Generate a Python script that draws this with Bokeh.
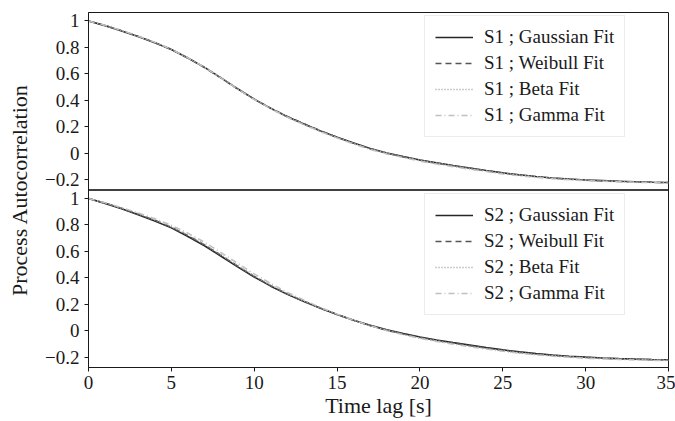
from bokeh.plotting import figure
from bokeh.models import Range1d, FixedTicker, Span, Legend, LegendItem
from bokeh.embed import file_html
from bokeh.resources import INLINE

# ---- data ----
time_lag = list(range(36))

s1_gaussian = [1.000, 0.965, 0.925, 0.882, 0.836, 0.785, 0.720, 0.650, 0.570, 0.488,
               0.410, 0.340, 0.277, 0.222, 0.170, 0.122, 0.078, 0.038, 0.004, -0.024,
               -0.050, -0.071, -0.091, -0.110, -0.129, -0.147, -0.161, -0.174, -0.185, -0.193,
               -0.200, -0.205, -0.210, -0.214, -0.217, -0.219]
s1_weibull = [1.000, 0.966, 0.927, 0.884, 0.837, 0.785, 0.719, 0.648, 0.568, 0.487,
              0.410, 0.341, 0.279, 0.224, 0.171, 0.122, 0.077, 0.036, 0.002, -0.026,
              -0.052, -0.073, -0.093, -0.112, -0.131, -0.149, -0.163, -0.176, -0.187, -0.195,
              -0.202, -0.207, -0.212, -0.215, -0.218, -0.220]
s1_beta = [1.000, 0.964, 0.924, 0.881, 0.836, 0.786, 0.722, 0.652, 0.572, 0.489,
           0.410, 0.339, 0.276, 0.221, 0.169, 0.121, 0.077, 0.037, 0.003, -0.025,
           -0.051, -0.072, -0.092, -0.111, -0.130, -0.148, -0.162, -0.175, -0.186, -0.194,
           -0.201, -0.206, -0.211, -0.215, -0.218, -0.220]
s1_gamma = [1.000, 0.967, 0.929, 0.886, 0.839, 0.787, 0.722, 0.650, 0.569, 0.486,
            0.407, 0.337, 0.273, 0.217, 0.165, 0.116, 0.071, 0.030, -0.004, -0.032,
            -0.058, -0.080, -0.100, -0.119, -0.137, -0.155, -0.169, -0.181, -0.191, -0.199,
            -0.205, -0.210, -0.214, -0.218, -0.221, -0.223]

s2_gaussian = [1.000, 0.963, 0.922, 0.877, 0.830, 0.778, 0.713, 0.643, 0.564, 0.484,
               0.407, 0.338, 0.276, 0.222, 0.171, 0.124, 0.081, 0.042, 0.008, -0.020,
               -0.046, -0.068, -0.088, -0.107, -0.126, -0.143, -0.158, -0.171, -0.182, -0.191,
               -0.198, -0.204, -0.209, -0.213, -0.216, -0.218]
s2_weibull = [1.000, 0.965, 0.926, 0.883, 0.836, 0.784, 0.720, 0.650, 0.571, 0.490,
              0.412, 0.342, 0.279, 0.224, 0.172, 0.124, 0.080, 0.040, 0.005, -0.024,
              -0.050, -0.072, -0.092, -0.111, -0.130, -0.147, -0.162, -0.175, -0.186, -0.194,
              -0.201, -0.206, -0.211, -0.214, -0.217, -0.219]
s2_beta = [1.000, 0.966, 0.927, 0.884, 0.838, 0.787, 0.723, 0.653, 0.574, 0.493,
           0.415, 0.345, 0.281, 0.225, 0.173, 0.125, 0.080, 0.040, 0.005, -0.027,
           -0.053, -0.075, -0.095, -0.114, -0.132, -0.149, -0.164, -0.177, -0.187, -0.195,
           -0.202, -0.207, -0.211, -0.215, -0.218, -0.220]
s2_gamma = [1.000, 0.967, 0.931, 0.891, 0.848, 0.798, 0.738, 0.670, 0.592, 0.511,
            0.431, 0.358, 0.291, 0.233, 0.177, 0.127, 0.081, 0.039, 0.002, -0.029,
            -0.056, -0.079, -0.100, -0.119, -0.137, -0.154, -0.168, -0.181, -0.191, -0.199,
            -0.206, -0.211, -0.215, -0.219, -0.222, -0.224]

fit_names = ["Gaussian Fit", "Weibull Fit", "Beta Fit", "Gamma Fit"]
y_tick_values = [-0.2, 0.0, 0.2, 0.4, 0.6, 0.8, 1.0]
y_tick_labels = ["\u22120.2", "0", "0.2", "0.4", "0.6", "0.8", "1"]
x_tick_values = [0, 5, 10, 15, 20, 25, 30, 35]

# ---- styles ----
FONT = "Liberation Serif"
styles = [
    dict(line_color="#262626", line_width=1.6, line_dash="solid"),
    dict(line_color="#555555", line_width=1.5, line_dash="6 4"),
    dict(line_color="#9a9a9a", line_width=1.5, line_dash="1 2"),
    dict(line_color="#c0c0c0", line_width=1.5, line_dash="6 3 1 3"),
]

Y0, Y1 = -0.276, 1.064
SPAN = round(Y1 - Y0, 6)

p = figure(width=675, height=421, output_backend="svg", toolbar_location=None,
           x_range=Range1d(0, 35), y_range=Range1d(Y0, Y0 + 2 * SPAN),
           min_border_left=88, min_border_right=7, min_border_top=12, min_border_bottom=54)
p.extra_y_ranges = {"top": Range1d(Y0 - SPAN, Y1)}

p.xgrid.visible = False
p.ygrid.visible = False
p.outline_line_color = "#1a1a1a"
p.outline_line_width = 1
p.background_fill_color = "white"
p.border_fill_color = "white"

# y axis: ticks for both stacked panels
top_ticks = [round(v + SPAN, 6) for v in y_tick_values]
all_ticks = list(y_tick_values) + top_ticks
overrides = {}
for v, lab in zip(y_tick_values, y_tick_labels):
    overrides[v] = lab
for v, lab in zip(top_ticks, y_tick_labels):
    overrides[v] = lab
p.yaxis.ticker = FixedTicker(ticks=all_ticks)
p.yaxis.major_label_overrides = overrides
p.xaxis.ticker = FixedTicker(ticks=x_tick_values)

for ax in (p.xaxis[0], p.yaxis[0]):
    ax.axis_line_color = "#1a1a1a"
    ax.major_tick_line_color = "#1a1a1a"
    ax.major_tick_out = 4
    ax.major_tick_in = 0
    ax.minor_tick_out = 0
    ax.minor_tick_in = 0
    ax.major_label_text_font = FONT
    ax.major_label_text_font_size = "19px"
    ax.major_label_text_color = "#1a1a1a"
    ax.axis_label_text_font = FONT
    ax.axis_label_text_font_size = "22px"
    ax.axis_label_text_font_style = "normal"
    ax.axis_label_text_color = "#1a1a1a"
p.xaxis.axis_label = "Time lag [s]"
p.yaxis.axis_label = "Process Autocorrelation"
p.xaxis.major_label_standoff = 4
p.yaxis.major_label_standoff = 5
p.xaxis.axis_label_standoff = 1
p.yaxis.axis_label_standoff = 10

# divider between the panels
p.add_layout(Span(location=Y0 + SPAN, dimension="width", line_color="black", line_width=1.5))

def add_panel(series, tag, y_range_name):
    items = []
    for vals, name, st in zip(series, fit_names, styles):
        kw = {}
        if y_range_name:
            kw["y_range_name"] = y_range_name
        r = p.line(time_lag, vals, **st, **kw)
        items.append(LegendItem(label=f"{tag} ; {name}", renderers=[r]))
    return items

items1 = add_panel([s1_gaussian, s1_weibull, s1_beta, s1_gamma], "S1", "top")
items2 = add_panel([s2_gaussian, s2_weibull, s2_beta, s2_gamma], "S2", None)

def make_legend(items, loc):
    lg = Legend(items=items, location=loc)
    lg.label_text_font = FONT
    lg.label_text_font_size = "19px"
    lg.label_text_color = "#1a1a1a"
    lg.glyph_width = 38
    lg.glyph_height = 20
    lg.label_height = 20
    lg.label_standoff = 11
    lg.spacing = 4
    lg.padding = 10
    lg.margin = 0
    lg.border_line_color = "#d9d9d9"
    lg.border_line_width = 1
    lg.background_fill_alpha = 0.85
    return lg

p.add_layout(make_legend(items1, (336, 230)), "center")
p.add_layout(make_legend(items2, (336, 52)), "center")

open("out.html", "w").write(file_html(p, INLINE))
